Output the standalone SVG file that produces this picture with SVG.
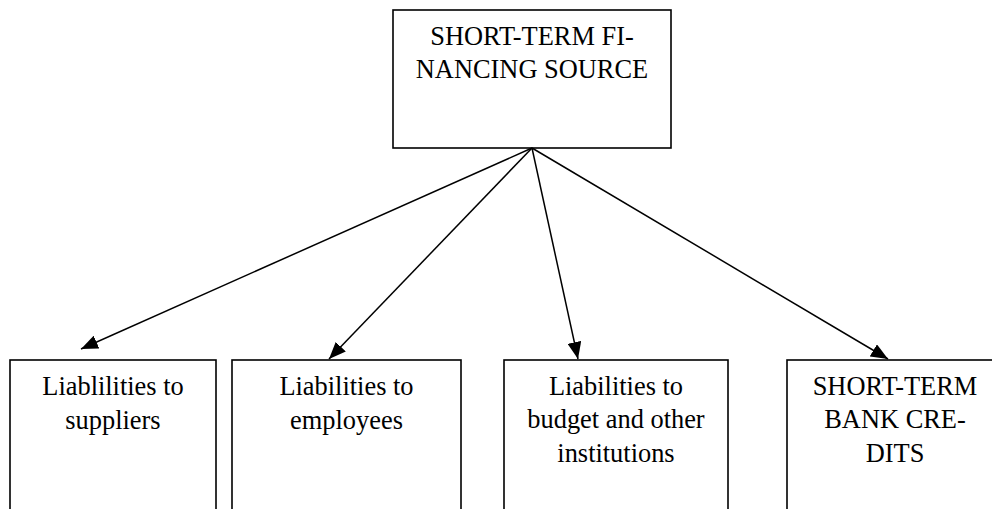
<svg xmlns="http://www.w3.org/2000/svg" width="992" height="509" viewBox="0 0 992 509">
<style>
.box{fill:#fff;stroke:#000;stroke-width:1.6}
.t{font-family:'Liberation Serif','Times New Roman',serif;font-size:26.4px;fill:#000;text-anchor:middle}
.c{stroke:#000;stroke-width:1.5;fill:none;marker-end:url(#ah)}
</style>
<defs>
<marker id="ah" markerUnits="userSpaceOnUse" markerWidth="18" markerHeight="14" refX="17" refY="7" orient="auto">
<path d="M0,0 L17,7 L0,14 Z" fill="#000"/>
</marker>
</defs>
<rect width="992" height="509" fill="#fff"/>
<g id="top">
<rect class="box" x="393" y="10" width="278" height="138"/>
<text class="t" x="532" y="45">SHORT-TERM FI-</text>
<text class="t" x="532" y="78">NANCING SOURCE</text>
</g>
<g id="n1">
<rect class="box" x="10" y="360" width="206" height="160"/>
<text class="t" x="113" y="395">Liablilities to</text>
<text class="t" x="113" y="429">suppliers</text>
</g>
<g id="n2">
<rect class="box" x="232" y="360" width="229" height="160"/>
<text class="t" x="346.5" y="395">Liabilities to</text>
<text class="t" x="346.5" y="429">employees</text>
</g>
<g id="n3">
<rect class="box" x="504" y="360" width="224" height="160"/>
<text class="t" x="616" y="395">Liabilities to</text>
<text class="t" x="616" y="428">budget and other</text>
<text class="t" x="616" y="462">institutions</text>
</g>
<g id="n4">
<rect class="box" x="787" y="360" width="216" height="160"/>
<text class="t" x="895" y="395">SHORT-TERM</text>
<text class="t" x="895" y="428">BANK CRE-</text>
<text class="t" x="895" y="462">DITS</text>
</g>
<g id="connectors">
<line class="c" x1="532" y1="148" x2="81" y2="349"/>
<line class="c" x1="532" y1="148" x2="329" y2="359"/>
<line class="c" x1="532" y1="148" x2="578" y2="359"/>
<line class="c" x1="532" y1="148" x2="888" y2="359"/>
</g>
</svg>
